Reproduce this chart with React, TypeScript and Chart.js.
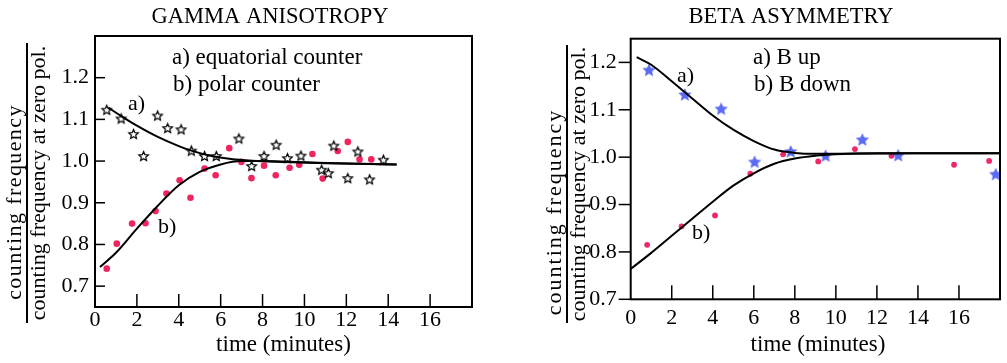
import React, { useEffect, useRef } from 'react';
import { Chart, registerables } from 'chart.js';
Chart.register(...registerables);

// ---------- DATA ----------
const xTicks = [0, 2, 4, 6, 8, 10, 12, 14, 16];
const xTickMarks = [2, 4, 6, 8, 10, 12, 14, 16];
const yTicks = [0.7, 0.8, 0.9, 1.0, 1.1, 1.2];

// Gamma anisotropy: a) equatorial counter (open stars)
const gammaEqX = [0.56, 1.25, 1.84, 2.32, 2.99, 3.47, 4.11, 4.6, 5.23, 5.79, 6.87, 7.48, 8.07, 8.65, 9.19, 9.83, 10.82, 11.14, 11.4, 12.07, 12.55, 13.11, 13.77];
const gammaEqY = [1.122, 1.101, 1.064, 1.011, 1.108, 1.078, 1.075, 1.024, 1.011, 1.011, 1.053, 0.987, 1.011, 1.038, 1.006, 1.012, 0.978, 0.97, 1.036, 0.958, 1.022, 0.955, 1.002];
// Gamma anisotropy: b) polar counter (red dots)
const gammaPolX = [0.56, 1.04, 1.77, 2.41, 2.89, 3.41, 4.04, 4.56, 5.23, 5.76, 6.41, 6.99, 7.47, 8.07, 8.63, 9.29, 9.75, 10.38, 10.87, 11.59, 12.07, 12.63, 13.19];
const gammaPolY = [0.742, 0.802, 0.85, 0.851, 0.88, 0.922, 0.954, 0.912, 0.982, 0.966, 1.031, 0.998, 0.959, 0.989, 0.966, 0.984, 0.991, 1.017, 0.958, 1.024, 1.046, 1.004, 1.004];
// Gamma fitted curves
const gammaCurveAX = [0.64, 1.25, 2, 3, 4, 4.6, 5.5, 6.5, 7.5, 9, 11, 14.4];
const gammaCurveAY = [1.128, 1.108, 1.085, 1.058, 1.036, 1.025, 1.013, 1.005, 1.001, 0.998, 0.995, 0.992];
const gammaCurveBX = [0.24, 1, 2, 3, 4, 5, 6, 7, 8, 10, 12, 14.4];
const gammaCurveBY = [0.746, 0.78, 0.838, 0.893, 0.942, 0.974, 0.992, 1.0, 1.0, 0.997, 0.994, 0.992];

// Beta asymmetry: a) B up (blue stars)
const betaUpX = [0.89, 2.64, 4.41, 6.04, 7.8, 9.5, 11.29, 13.04, 17.79];
const betaUpY = [1.183, 1.131, 1.101, 0.989, 1.011, 1.002, 1.036, 1.003, 0.963];
// Beta asymmetry: b) B down (red dots)
const betaDownX = [0.8, 2.48, 4.11, 5.83, 7.43, 9.14, 10.93, 12.71, 15.76, 17.47];
const betaDownY = [0.815, 0.854, 0.877, 0.965, 1.006, 0.991, 1.017, 1.003, 0.984, 0.992];
// Beta fitted curves
const betaCurveAX = [0.29, 1, 2, 3, 4, 5, 6, 7, 8, 9, 10, 14, 18];
const betaCurveAY = [1.211, 1.195, 1.16, 1.124, 1.088, 1.058, 1.034, 1.016, 1.009, 1.007, 1.007, 1.008, 1.008];
const betaCurveBX = [0, 1, 2, 3, 4, 5, 6, 7, 8, 9, 10, 12, 18];
const betaCurveBY = [0.764, 0.798, 0.834, 0.87, 0.906, 0.94, 0.966, 0.986, 0.997, 1.003, 1.006, 1.008, 1.008];

const SERIF = "'Liberation Serif', 'Times New Roman', serif";

const pts = (xs: number[], ys: number[]) => xs.map((x, i) => ({ x, y: ys[i] }));

function makeStar(outer: number, inner: number, fill: string | null, stroke: string | null, lw: number) {
  const size = Math.ceil(outer * 2 + lw * 2 + 2);
  const c = document.createElement('canvas');
  c.width = size;
  c.height = size;
  const g = c.getContext('2d')!;
  g.beginPath();
  for (let i = 0; i < 10; i++) {
    const r = i % 2 ? inner : outer;
    const ang = -Math.PI / 2 + (i * Math.PI) / 5;
    const px = size / 2 + r * Math.cos(ang);
    const py = size / 2 + r * Math.sin(ang);
    if (i) g.lineTo(px, py);
    else g.moveTo(px, py);
  }
  g.closePath();
  if (fill) {
    g.fillStyle = fill;
    g.fill();
  }
  if (stroke) {
    g.strokeStyle = stroke;
    g.lineWidth = lw;
    g.lineJoin = 'miter';
    g.stroke();
  }
  return c;
}

type TextSpec = { text: string; x: number; y: number; size: number; align?: CanvasTextAlign };
type FracSpec = { x: number; cy: number; text: string; size: number; spacing: number };
type DecoSpec = {
  id: string;
  offsetX: number;
  yTickInside: boolean;
  yTickLen: number;
  xTickLen: number;
  texts: TextSpec[];
  fracs: FracSpec[];
  fracLine: { x: number; y1: number; y2: number };
};

function decoPlugin(spec: DecoSpec) {
  return {
    id: 'deco' + spec.id,
    afterDraw(chart: any) {
      const ctx: CanvasRenderingContext2D = chart.ctx;
      const a = chart.chartArea;
      const xs = chart.scales.x;
      const ys = chart.scales.y;
      const line = (x1: number, y1: number, x2: number, y2: number) => {
        ctx.beginPath();
        ctx.moveTo(x1, y1);
        ctx.lineTo(x2, y2);
        ctx.stroke();
      };
      ctx.save();
      ctx.strokeStyle = '#000';
      ctx.fillStyle = '#000';
      ctx.lineWidth = 2;
      ctx.strokeRect(a.left, a.top, a.right - a.left, a.bottom - a.top);
      ctx.lineWidth = 1.5;
      xTickMarks.forEach((v) => {
        const px = xs.getPixelForValue(v);
        line(px, a.bottom, px, a.bottom - spec.xTickLen);
      });
      yTicks.forEach((v) => {
        const py = ys.getPixelForValue(v);
        if (spec.yTickInside) line(a.left, py, a.left + spec.yTickLen, py);
        else line(a.left - spec.yTickLen, py, a.left, py);
      });
      spec.texts.forEach((t) => {
        ctx.font = `${t.size}px ${SERIF}`;
        ctx.textAlign = t.align || 'left';
        ctx.textBaseline = 'alphabetic';
        ctx.fillText(t.text, t.x - spec.offsetX, t.y);
      });
      spec.fracs.forEach((f) => {
        ctx.save();
        ctx.translate(f.x - spec.offsetX, f.cy);
        ctx.rotate(-Math.PI / 2);
        ctx.font = `${f.size}px ${SERIF}`;
        (ctx as any).letterSpacing = `${f.spacing}px`;
        ctx.textAlign = 'center';
        ctx.textBaseline = 'alphabetic';
        ctx.fillText(f.text, 0, 0);
        ctx.restore();
      });
      ctx.lineWidth = 2;
      line(spec.fracLine.x - spec.offsetX, spec.fracLine.y1, spec.fracLine.x - spec.offsetX, spec.fracLine.y2);
      ctx.restore();
    },
  };
}

type PanelSpec = {
  width: number;
  area: { left: number; right: number; top: number; bottom: number };
  yMin: number;
  yMax: number;
  yPad: number;
  xPad: number;
  datasets: any[];
  deco: DecoSpec;
};

function Panel({ spec, left, width }: { spec: () => PanelSpec; left: number; width: number }) {
  const ref = useRef<HTMLCanvasElement>(null);
  useEffect(() => {
    const s = spec();
    const H = 363;
    const chart = new Chart(ref.current!, {
      type: 'scatter',
      data: { datasets: s.datasets },
      options: {
        animation: false,
        responsive: false,
        events: [],
        layout: {
          padding: { left: 0, right: s.width - s.area.right, top: s.area.top, bottom: 0 },
        },
        plugins: { legend: { display: false }, tooltip: { enabled: false } },
        scales: {
          x: {
            type: 'linear',
            min: 0,
            max: 18,
            grid: { display: false, drawTicks: false },
            border: { display: false },
            afterBuildTicks: (sc: any) => {
              sc.ticks = xTicks.map((v) => ({ value: v }));
            },
            afterFit: (sc: any) => {
              sc.height = H - s.area.bottom;
            },
            ticks: {
              autoSkip: false,
              maxRotation: 0,
              padding: s.xPad,
              color: '#000',
              font: { family: SERIF, size: 22 },
              callback: (v: any) => String(v),
            },
          },
          y: {
            type: 'linear',
            min: s.yMin,
            max: s.yMax,
            grid: { display: false, drawTicks: false },
            border: { display: false },
            afterBuildTicks: (sc: any) => {
              sc.ticks = yTicks.map((v) => ({ value: v }));
            },
            afterFit: (sc: any) => {
              sc.width = s.area.left;
            },
            ticks: {
              autoSkip: false,
              padding: s.yPad,
              color: '#000',
              font: { family: SERIF, size: 22 },
              callback: (v: any) => Number(v).toFixed(1),
            },
          },
        },
      },
      plugins: [decoPlugin(s.deco)],
    } as any);
    return () => chart.destroy();
  }, []);
  return (
    <canvas
      ref={ref}
      width={width}
      height={363}
      style={{ position: 'absolute', left, top: 0, width, height: 363 }}
    />
  );
}

const curve = (xs: number[], ys: number[]) => ({
  data: pts(xs, ys),
  showLine: true,
  borderColor: '#000',
  borderWidth: 2,
  pointRadius: 0,
  cubicInterpolationMode: 'monotone',
  order: 0,
});

function gammaSpec(): PanelSpec {
  const openStar = makeStar(5, 2.3, '#fff', '#000', 1.2);
  return {
    width: 500,
    area: { left: 95, right: 472, top: 36, bottom: 307 },
    yMin: 0.65,
    yMax: 1.3,
    yPad: 6,
    xPad: 0,
    datasets: [
      { data: pts(gammaPolX, gammaPolY), pointStyle: 'circle', pointRadius: 3.3, backgroundColor: '#ef2560', borderWidth: 0, order: 2 },
      { data: pts(gammaEqX, gammaEqY), pointStyle: openStar, pointRadius: 5, order: 1 },
      curve(gammaCurveAX, gammaCurveAY),
      curve(gammaCurveBX, gammaCurveBY),
    ],
    deco: {
      id: 'g',
      offsetX: 0,
      yTickInside: true,
      yTickLen: 10,
      xTickLen: 13,
      texts: [
        { text: 'GAMMA ANISOTROPY', x: 270, y: 23, size: 22.5, align: 'center' },
        { text: 'a) equatorial counter', x: 172, y: 64, size: 23 },
        { text: 'b) polar counter', x: 173, y: 91, size: 23 },
        { text: 'a)', x: 128, y: 110, size: 22 },
        { text: 'b)', x: 158, y: 233, size: 22 },
        { text: 'time (minutes)', x: 283.5, y: 351, size: 23, align: 'center' },
      ],
      fracs: [
        { text: 'counting frequency', x: 21, cy: 202, size: 22, spacing: 1.4 },
        { text: 'counting frequency at zero pol.', x: 45, cy: 183, size: 22, spacing: 0 },
      ],
      fracLine: { x: 27, y1: 43, y2: 323 },
    },
  };
}

function betaSpec(): PanelSpec {
  const blueStar = makeStar(7, 3.3, '#5b6cf3', null, 0);
  return {
    width: 507,
    area: { left: 130.7, right: 505, top: 38.7, bottom: 299.3 },
    yMin: 0.7,
    yMax: 1.25,
    yPad: 14,
    xPad: 6,
    datasets: [
      { data: pts(betaDownX, betaDownY), pointStyle: 'circle', pointRadius: 2.9, backgroundColor: '#ee2a66', borderWidth: 0, order: 2 },
      { data: pts(betaUpX, betaUpY), pointStyle: blueStar, pointRadius: 6, order: 1 },
      curve(betaCurveAX, betaCurveAY),
      curve(betaCurveBX, betaCurveBY),
    ],
    deco: {
      id: 'b',
      offsetX: 500,
      yTickInside: false,
      yTickLen: 12,
      xTickLen: 14,
      texts: [
        { text: 'BETA ASYMMETRY', x: 791, y: 23, size: 22.5, align: 'center' },
        { text: 'a) B up', x: 753, y: 64, size: 23 },
        { text: 'b) B down', x: 754, y: 91, size: 23 },
        { text: 'a)', x: 677, y: 82, size: 22 },
        { text: 'b)', x: 692, y: 239, size: 22 },
        { text: 'time (minutes)', x: 818, y: 351, size: 23, align: 'center' },
      ],
      fracs: [
        { text: 'counting frequency', x: 561, cy: 212, size: 22, spacing: 2 },
        { text: 'counting frequency at zero pol.', x: 585, cy: 184, size: 22, spacing: 0 },
      ],
      fracLine: { x: 567, y1: 45, y2: 323 },
    },
  };
}

export default function App() {
  return (
    <div style={{ position: 'fixed', left: 0, top: 0, width: 1007, height: 363, background: '#fff', overflow: 'hidden' }}>
      <Panel spec={gammaSpec} left={0} width={500} />
      <Panel spec={betaSpec} left={500} width={507} />
    </div>
  );
}
